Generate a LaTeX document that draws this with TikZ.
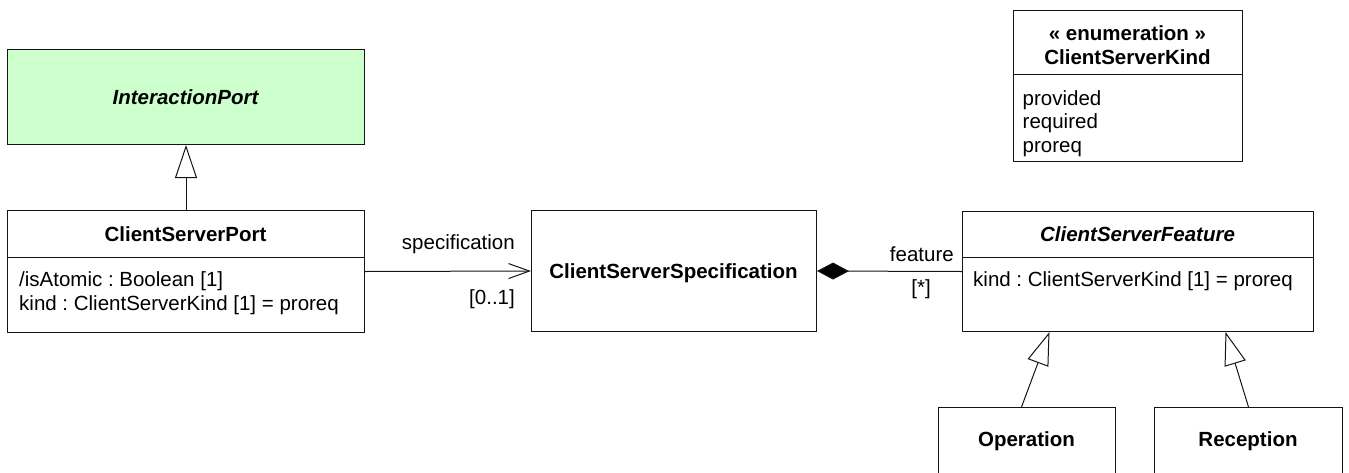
\documentclass[tikz,border=0pt]{standalone}
\usepackage{fontspec}
\setmainfont{Liberation Sans}
\usetikzlibrary{arrows.meta}
\definecolor{ipgreen}{RGB}{204,255,204}
\definecolor{umlline}{RGB}{20,20,20}
\frenchspacing
\tikzset{
  cls/.style={draw=umlline, line width=1pt, rectangle, inner sep=0pt, anchor=north west, fill=white},
  txt/.style={inner sep=0pt, font=\fontsize{20.5}{23.5}\selectfont},
  ttl/.style={txt, anchor=base, font=\fontsize{20.5}{23.5}\selectfont\bfseries},
  attr/.style={txt, anchor=base west},
  conn/.style={draw=umlline, line width=1pt},
  gen/.style={conn, -{Triangle[length=33pt, width=22pt, fill=white, line width=1pt]}},
  nav/.style={conn, -{Straight Barb[length=21pt, width=15pt, line width=1pt]}},
  comp/.style={conn, -{Diamond[length=32pt, width=17pt, fill=black, line width=1pt]}}
}
\begin{document}
\begin{tikzpicture}[x=1pt, y=-1pt]
\useasboundingbox (0,0) rectangle (1349,472);
% InteractionPort
\node[cls, fill=ipgreen, minimum width=357pt, minimum height=95pt] (ip) at (7,49) {};
\node[ttl, font=\fontsize{20.5}{23.5}\selectfont\bfseries\itshape] (ipname) at (185.5,104) {InteractionPort};
% ClientServerPort
\node[cls, minimum width=357pt, minimum height=122pt] (port) at (7,210) {};
\draw[conn] (7,257.5) -- (364,257.5);
\node[ttl] (portname) at (185.5,241.5) {ClientServerPort};
\node[attr] (portA1) at (19,286.7) {/isAtomic : Boolean [1]};
\node[attr] (portA2) at (19,310.2) {kind : ClientServerKind [1] = proreq};
% ClientServerSpecification
\node[cls, minimum width=285pt, minimum height=121pt] (spec) at (531,210) {};
\node[ttl] (specname) at (673.5,278) {ClientServerSpecification};
% ClientServerFeature
\node[cls, minimum width=351pt, minimum height=120pt] (feat) at (962,211) {};
\draw[conn] (962,257) -- (1313,257);
\node[ttl, font=\fontsize{20.5}{23.5}\selectfont\bfseries\itshape] (featname) at (1137.5,241.5) {ClientServerFeature};
\node[attr] (featA1) at (973,286.7) {kind : ClientServerKind [1] = proreq};
% Enumeration
\node[cls, minimum width=229pt, minimum height=151pt] (enum) at (1013,10) {};
\draw[conn] (1013,74.5) -- (1242,74.5);
\node[ttl] (enumst) at (1127.5,40) {« enumeration »};
\node[ttl] (enumname) at (1127.5,64) {ClientServerKind};
\node[attr] (lit1) at (1022.5,105) {provided};
\node[attr] (lit2) at (1022.5,128.5) {required};
\node[attr] (lit3) at (1022.5,152) {proreq};
% Operation, Reception
\node[cls, minimum width=177pt, minimum height=66pt] (op) at (938,407) {};
\node[ttl] (opname) at (1026.5,446.5) {Operation};
\node[cls, minimum width=188pt, minimum height=66pt] (rec) at (1154,407) {};
\node[ttl] (recname) at (1248,446.5) {Reception};
% connectors
\draw[gen] (port.north) -- (ip.south);
\draw[nav] (port.east) -- (spec.west);
\draw[comp] (feat.west) -- (spec.east);
\draw[gen] ([xshift=-5.5pt]op.north) -- ([xshift=-88.5pt]feat.south);
\draw[gen] (rec.north) -- ([xshift=87.5pt]feat.south);
% association end labels
\node[txt, anchor=base east] (lspec) at (515,249.5) {specification};
\node[txt, anchor=base east] (lmult1) at (515,304) {[0..1]};
\node[txt, anchor=base east] (lfeat) at (954,261) {feature};
\node[txt, anchor=base east] (lmult2) at (931,294) {[*]};
\end{tikzpicture}
\end{document}
